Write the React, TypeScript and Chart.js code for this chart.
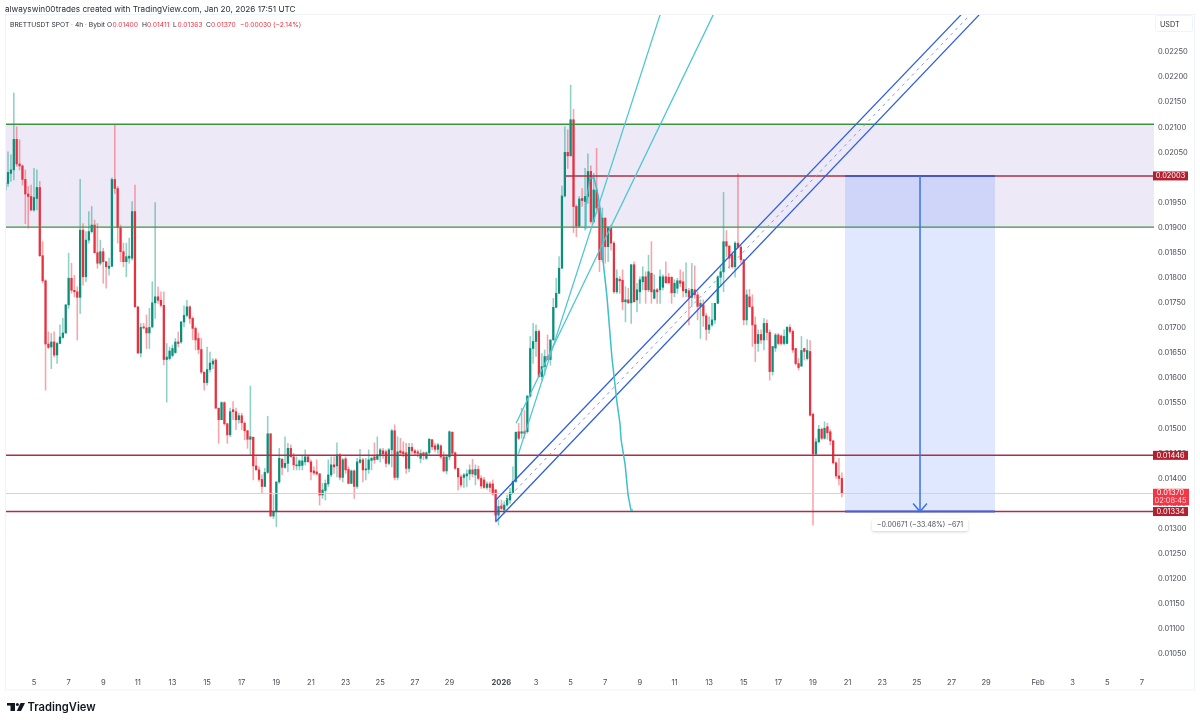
import React, { useEffect, useRef } from "react";
import { Chart, registerables } from "chart.js";

Chart.register(...registerables);

// Prices are listed in units of 0.00001 USDT, one entry per 4h candle.
const PRICE_UNIT = 0.00001;
const FIRST_BAR = -10;

const opens = [
  1975,1988,2008,2015,2076,2027,2023,1996,1967,1962,
  1935,1958,1980,1844,1794,1668,1662,1672,1646,1669,
  1681,1690,1746,1799,1775,1772,1761,1895,1802,1875,
  1892,1905,1850,1829,1852,1832,1819,1823,1996,1978,
  1900,1852,1832,1839,1839,1932,1742,1650,1701,1700,
  1690,1702,1750,1762,1755,1745,1637,1639,1645,1651,
  1672,1672,1712,1725,1742,1719,1699,1679,1657,1612,
  1591,1617,1628,1636,1540,1517,1551,1509,1487,1537,
  1533,1517,1525,1510,1495,1478,1482,1425,1417,1398,
  1384,1412,1489,1325,1334,1393,1438,1422,1430,1460,
  1443,1425,1425,1426,1433,1443,1433,1415,1413,1409,
  1367,1376,1389,1407,1427,1425,1447,1402,1439,1418,
  1390,1415,1384,1432,1437,1417,1418,1436,1443,1438,
  1445,1455,1453,1430,1457,1495,1402,1455,1453,1451,
  1420,1462,1455,1453,1440,1451,1440,1451,1477,1465,
  1458,1465,1443,1415,1443,1492,1451,1420,1403,1402,
  1405,1409,1417,1407,1418,1400,1397,1382,1389,1389,
  1377,1327,1345,1337,1347,1357,1372,1394,1493,1490,
  1493,1493,1564,1659,1673,1693,1603,1623,1643,1637,
  1676,1741,1769,1819,1963,2050,2043,2115,1942,1903,
  1958,1952,1962,2012,1912,1975,1939,1836,1919,1862,
  1899,1869,1772,1797,1795,1752,1756,1750,1826,1756,
  1772,1792,1802,1776,1809,1759,1776,1776,1781,1802,
  1801,1801,1770,1779,1794,1792,1770,1774,1761,1776,
  1766,1743,1746,1724,1697,1706,1716,1749,1801,1812,
  1872,1863,1846,1822,1869,1861,1836,1716,1762,1742,
  1706,1669,1687,1676,1709,1691,1613,1660,1686,1684,
  1669,1669,1701,1693,1659,1629,1624,1659,1639,1653,
  1528,1449,1473,1498,1480,1503,1493,1475,1431,1405,1400,
];
const highs = [
  2005,2051,2045,2168,2101,2075,2025,2015,1982,1985,
  2018,2015,1992,1872,1796,1692,1689,1692,1672,1706,
  1719,1746,1849,1829,1805,1782,1996,1908,1892,1932,
  1942,1915,1908,1875,1859,1832,1839,1999,2106,1982,
  1905,1869,1869,1879,1952,1985,1742,1709,1709,1726,
  1739,1792,1950,1782,1772,1772,1669,1662,1666,1679,
  1692,1712,1744,1755,1744,1722,1702,1690,1679,1612,
  1662,1652,1639,1639,1540,1553,1553,1510,1540,1553,
  1540,1530,1530,1513,1496,1584,1483,1443,1423,1407,
  1420,1524,1489,1367,1393,1460,1440,1483,1470,1467,
  1450,1443,1437,1447,1457,1447,1437,1423,1437,1410,
  1390,1397,1437,1443,1443,1471,1450,1440,1443,1423,
  1417,1417,1440,1458,1440,1440,1457,1443,1471,1483,
  1460,1460,1457,1460,1498,1507,1483,1480,1473,1470,
  1470,1470,1458,1457,1457,1453,1453,1480,1478,1470,
  1470,1467,1453,1447,1495,1493,1453,1420,1407,1410,
  1417,1427,1438,1427,1425,1405,1402,1393,1393,1397,
  1378,1357,1357,1354,1367,1380,1423,1493,1510,1540,
  1536,1566,1683,1709,1706,1696,1649,1656,1686,1676,
  1759,1799,1842,1983,2101,2095,2184,2136,1945,1962,
  1978,2018,2047,2023,2008,2058,1952,1939,1919,1902,
  1905,1872,1816,1802,1816,1782,1779,1826,1832,1789,
  1802,1822,1812,1845,1872,1806,1779,1816,1806,1832,
  1809,1802,1796,1799,1816,1812,1830,1779,1829,1824,
  1772,1756,1756,1729,1722,1749,1749,1804,1822,1970,
  1894,1865,1852,1872,2007,1865,1836,1776,1777,1766,
  1722,1696,1696,1719,1716,1696,1663,1689,1689,1686,
  1696,1703,1706,1696,1659,1639,1683,1659,1677,1675,
  1530,1480,1506,1500,1513,1510,1497,1475,1433,1440,1411,
];
const lows = [
  1945,1982,1992,1995,2022,2015,1985,1908,1899,1934,
  1932,1935,1842,1790,1576,1659,1619,1642,1629,1669,
  1679,1689,1739,1769,1762,1676,1729,1785,1792,1869,
  1889,1849,1819,1825,1789,1779,1805,1822,1968,1869,
  1832,1822,1802,1829,1835,1742,1649,1642,1698,1659,
  1659,1700,1719,1749,1742,1626,1552,1636,1642,1649,
  1662,1669,1702,1722,1709,1676,1656,1649,1609,1576,
  1586,1612,1619,1540,1470,1517,1506,1470,1483,1517,
  1497,1510,1497,1477,1460,1447,1397,1417,1394,1370,
  1384,1410,1324,1320,1304,1390,1407,1420,1413,1443,
  1417,1417,1417,1417,1427,1433,1397,1407,1407,1347,
  1360,1357,1384,1403,1410,1403,1397,1393,1410,1390,
  1390,1360,1380,1430,1393,1397,1410,1417,1430,1437,
  1433,1440,1423,1427,1423,1397,1397,1447,1443,1410,
  1413,1450,1447,1443,1431,1437,1438,1447,1457,1453,
  1450,1440,1413,1409,1437,1447,1418,1377,1383,1382,
  1384,1397,1403,1387,1397,1380,1380,1378,1373,1367,
  1313,1307,1337,1330,1344,1350,1370,1392,1477,1480,
  1480,1490,1562,1629,1643,1603,1596,1606,1636,1626,
  1676,1741,1769,1819,1961,2018,2043,1890,1882,1902,
  1942,1895,1948,1909,1909,1929,1812,1832,1829,1832,
  1855,1769,1769,1769,1736,1712,1749,1709,1752,1732,
  1749,1776,1749,1772,1749,1759,1749,1749,1776,1789,
  1789,1749,1762,1769,1782,1762,1762,1706,1743,1759,
  1716,1679,1703,1676,1689,1703,1709,1749,1782,1772,
  1842,1819,1819,1801,1859,1829,1706,1706,1742,1663,
  1633,1653,1669,1656,1676,1596,1606,1653,1666,1666,
  1666,1668,1689,1651,1626,1616,1623,1636,1636,1524,
  1307,1447,1471,1477,1478,1478,1467,1429,1400,1387,1363,
];
const closes = [
  1988,2010,2015,2076,2027,2023,1996,1967,1962,1935,
  1960,1980,1844,1794,1668,1661,1672,1646,1669,1682,
  1690,1746,1799,1775,1772,1761,1895,1802,1875,1892,
  1905,1850,1829,1852,1832,1822,1823,1996,1978,1900,
  1852,1832,1842,1843,1932,1742,1650,1701,1700,1690,
  1701,1750,1762,1755,1745,1637,1642,1654,1659,1672,
  1669,1712,1725,1742,1719,1699,1676,1657,1612,1591,
  1617,1630,1634,1540,1517,1551,1509,1487,1533,1533,
  1517,1525,1511,1495,1478,1483,1425,1417,1398,1384,
  1412,1489,1325,1334,1393,1440,1422,1430,1460,1443,
  1427,1427,1435,1435,1443,1433,1413,1411,1409,1367,
  1377,1390,1407,1427,1423,1447,1402,1437,1417,1390,
  1415,1384,1433,1437,1417,1418,1437,1440,1437,1447,
  1457,1449,1430,1457,1495,1402,1453,1451,1449,1420,
  1462,1455,1451,1450,1450,1447,1451,1478,1463,1458,
  1467,1443,1415,1443,1493,1450,1420,1403,1387,1407,
  1409,1417,1409,1418,1400,1385,1382,1389,1382,1369,
  1327,1344,1340,1347,1360,1372,1394,1492,1480,1493,
  1490,1564,1659,1673,1693,1603,1623,1643,1637,1676,
  1741,1769,1819,1963,2050,2043,2115,1942,1903,1957,
  1954,1962,2012,1912,1975,1939,1836,1919,1862,1899,
  1869,1772,1799,1794,1752,1756,1750,1826,1752,1776,
  1796,1802,1776,1812,1772,1776,1772,1802,1802,1790,
  1790,1770,1789,1794,1789,1774,1777,1761,1777,1766,
  1743,1749,1724,1697,1706,1716,1749,1802,1812,1872,
  1863,1839,1822,1869,1861,1836,1716,1766,1742,1706,
  1669,1687,1676,1709,1691,1613,1663,1686,1669,1669,
  1683,1701,1693,1656,1629,1621,1655,1653,1655,1526,
  1449,1473,1498,1480,1500,1491,1475,1431,1405,1400,1370,
];

const priceTicks = [
  1050,1100,1150,1200,1250,1300,1350,1400,1450,1500,1550,1600,1650,
  1700,1750,1800,1850,1900,1950,2000,2050,2100,2150,2200,2250,
].map((v) => v * PRICE_UNIT);

const timeTickBars = [
  0,12,24,36,48,60,72,84,96,108,120,132,144,162,174,186,198,210,222,234,
  246,258,270,282,294,306,318,330,348,360,372,384,
];
const timeTickLabels = [
  "5","7","9","11","13","15","17","19","21","23","25","27","29","2026","3","5","7","9","11","13",
  "15","17","19","21","23","25","27","29","Feb","3","5","7",
];

// Drawing levels and paths as [bar, price-in-units].
const zoneTop = 2106;
const zoneBottom = 1901;
const resistance = 2003;
const supportHigh = 1446;
const supportLow = 1334;
const lastPrice = 1370;
const barMin = -10.05;
const barMax = 388.2;
const rangeBars = [281.1, 333.1];
const arrowBar = 307.1;
const resistanceStart = 184.4;

const channelUpper: number[][] = [[160.1, 1357], [321.3, 2324]];
const channelMiddle: number[][] = [[160.1, 1335.5], [324.4, 2324]];
const channelLower: number[][] = [[160.1, 1314], [327.6, 2324]];
const channelEdge: number[][] = [[160.1, 1357], [160.1, 1314]];
const fanSteep: number[][] = [[167.8, 1447], [217, 2324]];
const fanShallow: number[][] = [[167.1, 1510], [235.4, 2324]];
const cyanCurve: number[][] = [
  [191, 1899], [191.3, 1945], [192.7, 1999], [194.1, 1999], [195.5, 1965], [196.5, 1925],
  [197.2, 1836], [198.6, 1762], [200.3, 1642], [202.1, 1550], [203.1, 1510], [203.5, 1477],
  [204.9, 1427], [205.9, 1367], [206.9, 1337], [207.6, 1337],
];

const UP = "#0a8f7a";
const DOWN = "#e8303f";
const UP_WICK = "rgba(8,153,129,0.45)";
const DOWN_WICK = "rgba(242,54,69,0.45)";
const FONT = "Inter, 'Noto Sans', sans-serif";

const toPoints = (rows: number[][]) => rows.map(([x, p]) => ({ x, y: p * PRICE_UNIT }));

const lineSet = (rows: number[][], color: string, width: number, order: number, extra: any = {}) => ({
  type: "line",
  data: toPoints(rows),
  borderColor: color,
  borderWidth: width,
  pointRadius: 0,
  tension: 0,
  fill: false,
  order,
  ...extra,
});

const overlayPlugin = {
  id: "overlayText",
  afterDraw(chart: any) {
    const ctx = chart.ctx;
    const y = chart.scales.y;
    const at = (p: number) => y.getPixelForValue(p * PRICE_UNIT);
    ctx.save();
    // frame
    ctx.strokeStyle = "#f0f3fa";
    ctx.lineWidth = 1;
    ctx.strokeRect(5.5, 14.5, 1189, 675.5);

    ctx.textBaseline = "middle";
    // header
    ctx.textAlign = "left";
    ctx.fillStyle = "#2a2e39";
    ctx.font = `400 8.2px ${FONT}`;
    ctx.fillText("alwayswin00trades created with TradingView.com, Jan 20, 2026 17:51 UTC", 5, 9.5);
    ctx.font = `400 6.7px ${FONT}`;
    ctx.fillText("BRETTUSDT SPOT · 4h · Bybit", 10, 24.5);
    const parts: [string, number, string][] = [
      ["O", 107, "#2a2e39"], ["0.01400", 112.5, DOWN],
      ["H", 142, "#2a2e39"], ["0.01411", 147, DOWN],
      ["L", 173, "#2a2e39"], ["0.01363", 177.5, DOWN],
      ["C", 206, "#2a2e39"], ["0.01370", 211, DOWN],
      ["−0.00030 (−2.14%)", 240, DOWN],
    ];
    parts.forEach(([t, x, c]) => {
      ctx.fillStyle = c;
      ctx.fillText(t, x, 24.5);
    });

    // currency box
    ctx.fillStyle = "#ffffff";
    ctx.strokeStyle = "#f0f3fa";
    ctx.beginPath();
    ctx.roundRect(1155.5, 15.5, 37, 16, 2);
    ctx.fill();
    ctx.stroke();
    ctx.fillStyle = "#2a2e39";
    ctx.font = `400 7.2px ${FONT}`;
    ctx.fillText("USDT", 1160, 24.5);

    // price tags
    const tag = (p: number, text: string) => {
      const py = at(p);
      ctx.fillStyle = "#b2202f";
      ctx.fillRect(1153, py - 4.5, 35, 9);
      ctx.fillStyle = "#ffffff";
      ctx.font = `400 7.4px ${FONT}`;
      ctx.textAlign = "center";
      ctx.fillText(text, 1170.5, py + 0.3);
    };
    tag(resistance, "0.02003");
    tag(supportHigh, "0.01446");
    const py = at(lastPrice);
    ctx.fillStyle = "#f23645";
    ctx.fillRect(1153, py - 4.7, 36, 16.5);
    ctx.fillStyle = "#ffffff";
    ctx.font = `400 7.4px ${FONT}`;
    ctx.textAlign = "center";
    ctx.fillText("0.01370", 1170.5, py - 0.2);
    ctx.fillStyle = "rgba(255,255,255,0.85)";
    ctx.fillText("02:08:45", 1170.5, py + 7.6);
    tag(supportLow, "0.01334");

    // measure label
    const mx = chart.scales.x.getPixelForValue(arrowBar);
    const my = at(supportLow) + 13.5;
    ctx.save();
    ctx.shadowColor = "rgba(0,0,0,0.18)";
    ctx.shadowBlur = 3;
    ctx.shadowOffsetY = 1;
    ctx.fillStyle = "#ffffff";
    ctx.beginPath();
    ctx.roundRect(mx - 48, my - 6, 96, 12, 2);
    ctx.fill();
    ctx.restore();
    ctx.fillStyle = "#4a4d57";
    ctx.font = `400 7px ${FONT}`;
    ctx.fillText("−0.00671 (−33.48%) −671", mx, my + 0.3);

    // logo
    ctx.fillStyle = "#131722";
    ctx.fillRect(7, 703, 8, 2.6);
    ctx.fillRect(10.5, 703, 4.5, 8);
    ctx.beginPath();
    ctx.arc(17.4, 704.4, 1.5, 0, Math.PI * 2);
    ctx.fill();
    ctx.beginPath();
    ctx.moveTo(20.5, 703);
    ctx.lineTo(25, 703);
    ctx.lineTo(21, 711);
    ctx.lineTo(16.8, 711);
    ctx.closePath();
    ctx.fill();
    ctx.textAlign = "left";
    ctx.font = `600 11.2px ${FONT}`;
    ctx.fillText("TradingView", 27.5, 707.5);
    ctx.restore();
  },
};

export default function App() {
  const ref = useRef<HTMLCanvasElement | null>(null);

  useEffect(() => {
    const canvas = ref.current;
    if (!canvas) return;
    const bars = closes.map((_, i) => FIRST_BAR + i);
    const isUp = closes.map((c, i) => c >= opens[i]);
    const chart = new Chart(canvas, {
      type: "bar",
      data: {
        datasets: [
          lineSet([[barMin, zoneTop], [barMax, zoneTop]], "rgba(0,0,0,0)", 0, 40, {
            fill: { target: { value: zoneBottom * PRICE_UNIT } },
            backgroundColor: "#ede9f7",
          }),
          lineSet([[rangeBars[0], resistance], [rangeBars[1], resistance]], "rgba(0,0,0,0)", 0, 39, {
            fill: { target: { value: supportLow * PRICE_UNIT } },
            backgroundColor: "rgba(41,98,255,0.15)",
          }),
          {
            type: "bar",
            data: bars.map((x, i) => ({ x, y: [lows[i] * PRICE_UNIT, highs[i] * PRICE_UNIT] })),
            backgroundColor: isUp.map((u) => (u ? UP_WICK : DOWN_WICK)),
            barThickness: 0.9,
            grouped: false,
            order: 20,
          },
          {
            type: "bar",
            data: bars.map((x, i) => ({ x, y: [opens[i] * PRICE_UNIT, closes[i] * PRICE_UNIT] })),
            backgroundColor: isUp.map((u) => (u ? UP : DOWN)),
            barThickness: 1.6,
            minBarLength: 1,
            grouped: false,
            order: 19,
          },
          lineSet([[barMin, lastPrice], [barMax, lastPrice]], "#f6c3c8", 1, 18),
          lineSet([[barMin, zoneTop], [barMax, zoneTop]], "#3f9142", 1.4, 10),
          lineSet([[barMin, zoneBottom], [barMax, zoneBottom]], "#3f9142", 1.4, 10),
          lineSet([[resistanceStart, resistance], [barMax, resistance]], "#ad2f44", 1.5, 7),
          lineSet([[barMin, supportHigh], [barMax, supportHigh]], "#ad2f44", 1.5, 7),
          lineSet([[barMin, supportLow], [barMax, supportLow]], "#ad2f44", 1.5, 7),
          lineSet([[rangeBars[0], resistance], [rangeBars[1], resistance]], "#4a56c8", 2, 6),
          lineSet([[rangeBars[0], supportLow], [rangeBars[1], supportLow]], "#3b62e6", 2, 6),
          lineSet([[arrowBar, resistance], [arrowBar, supportLow]], "#3b72e6", 1.5, 5),
          lineSet(
            [[arrowBar - 2.4, supportLow + 16], [arrowBar, supportLow], [arrowBar + 2.4, supportLow + 16]],
            "#3b72e6",
            1.5,
            5,
          ),
          lineSet(channelUpper, "#2f5fe0", 1.3, 4),
          lineSet(channelLower, "#2f5fe0", 1.3, 4),
          lineSet(channelEdge, "#2f5fe0", 1.3, 4),
          lineSet(channelMiddle, "#7f9ae6", 1, 4, { borderDash: [3, 4] }),
          lineSet(fanSteep, "#4ec6d2", 1.3, 2),
          lineSet(fanShallow, "#4ec6d2", 1.3, 2),
          lineSet(cyanCurve, "#3dbfce", 1.5, 2),
        ] as any,
      },
      options: {
        responsive: false,
        animation: false,
        devicePixelRatio: 1,
        layout: { padding: { left: 5, top: 15, right: 6, bottom: 34 } },
        plugins: { legend: { display: false }, tooltip: { enabled: false }, title: { display: false } },
        scales: {
          x: {
            type: "linear",
            offset: false,
            min: barMin,
            max: barMax,
            grid: { display: false, drawTicks: false, tickLength: 0, offset: false },
            border: { display: false },
            afterBuildTicks: (s: any) => {
              s.ticks = timeTickBars.map((value) => ({ value }));
            },
            afterFit: (s: any) => {
              s.height = 17;
            },
            ticks: {
              autoSkip: false,
              maxRotation: 0,
              padding: 5,
              color: "#4a4d57",
              font: (c: any) => ({
                family: FONT,
                size: 7.6,
                weight: c.tick && c.tick.value === 162 ? "700" : "400",
              }),
              callback: (v: any) => timeTickLabels[timeTickBars.indexOf(Number(v))] ?? "",
            },
          },
          y: {
            type: "linear",
            position: "right",
            min: 1012.1 * PRICE_UNIT,
            max: 2323.8 * PRICE_UNIT,
            grid: { display: false, drawTicks: false, tickLength: 0 },
            border: { display: false },
            afterBuildTicks: (s: any) => {
              s.ticks = priceTicks.map((value) => ({ value }));
            },
            afterFit: (s: any) => {
              s.width = 40;
            },
            ticks: {
              autoSkip: false,
              padding: 4,
              color: "#4a4d57",
              font: { family: FONT, size: 7.5 },
              callback: (v: any) => Number(v).toFixed(5),
            },
          },
        },
      } as any,
      plugins: [overlayPlugin],
    } as any);
    return () => chart.destroy();
  }, []);

  return (
    <div style={{ position: "absolute", left: 0, top: 0, width: 1200, height: 724, background: "#ffffff", overflow: "hidden" }}>
      <canvas ref={ref} width={1200} height={724} style={{ display: "block" }} />
    </div>
  );
}
